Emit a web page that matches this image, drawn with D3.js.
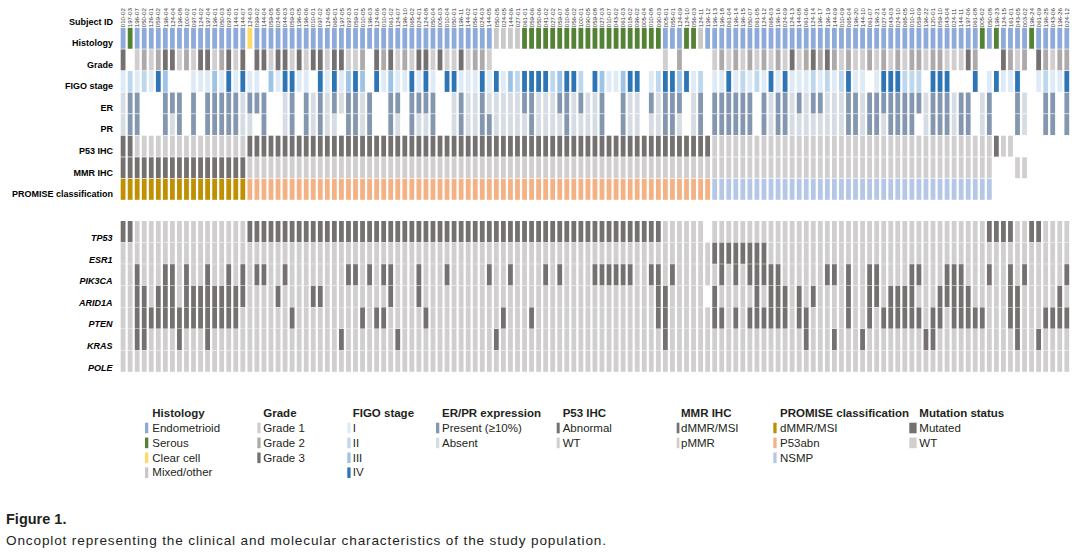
<!DOCTYPE html>
<html><head><meta charset="utf-8">
<script src="https://cdn.jsdelivr.net/npm/d3@7"></script>
<style>
body{margin:0;background:#fff;}
svg{display:block;font-family:"Liberation Sans",Arial,sans-serif;}
</style></head><body>
<svg id="chart" width="1080" height="559"></svg>
<script>
// ---------- DATA (one entry per subject / column) ----------
const subjectIds = ["010-02","197-03","196-07","050-02","126-01","059-02","196-04","124-04","196-08","100-02",
"097-01","124-02","197-04","196-01","050-03","097-05","144-01","144-07","124-03","099-02",
"144-04","059-05","024-08","044-03","059-03","196-05","196-06","010-01","097-02","124-05",
"065-01","197-05","097-03","059-01","010-05","196-03","124-06","010-03","061-02","124-07",
"196-10","065-02","024-01","124-08","050-04","005-03","010-04","050-01","196-11","144-02",
"056-01","024-03","144-05","050-05","024-05","144-06","027-01","061-01","059-06","050-06",
"041-02","027-02","059-07","010-06","056-02","100-01","090-05","059-08","027-03","010-07",
"043-02","061-03","018-02","096-02","005-04","010-08","090-03","005-01","055-01","124-09",
"124-10","056-03","124-11","196-12","196-13","196-18","061-04","196-14","196-15","050-07",
"061-05","124-12","065-03","196-16","024-09","124-13","144-08","061-06","124-14","196-17",
"196-19","144-09","010-09","065-04","196-20","144-10","061-07","196-21","027-04","043-03",
"024-10","065-05","010-10","059-09","196-22","120-01","059-10","043-04","024-11","144-11",
"197-06","061-08","005-02","050-08","196-23","124-15","161-01","043-05","003-02","196-24",
"061-09","196-25","043-06","196-26","024-12"];

// Histology: E endometrioid, S serous, C clear cell, M mixed/other
const histology = ("ESEEEEEEEE"+"EEEEEEEECE"+"EEEEEEEEEE"+"EEEEEEEEEE"+"EEEEEEEEEE"+"EEEMMMMSSS"+"SSSSSSSSSS"+"SSSSSSSEEE"+"SSMEEEEEEE"+"EEEEEEEEEE"+"EEEEEEEEEE"+"EEEEEEEEEE"+"EESESEEEES"+"EEEEE").split("");
// Grade 1/2/3, "." = not graded
const grade = ("3.12123312"+"13312313.3"+"3133131331"+"33112.3231"+"2133131131"+"221......."+".........."+".......1.2"+"....121212"+"1212131232"+"3212112121"+"2122122111"+"32...3212."+"32122").split("");
// FIGO stage 1..4, "." = missing
const figo = ("1212143..."+"1113141411"+".314411.41"+"41343.4131"+"14141.4411"+"1414132444"+"423442.431"+"1344.12443"+"412.114121"+"2141411121"+"212411.144"+"4222.444.."+".4.14114.."+"12114").split("");
// ER / PR: P present, A absent, "." missing
const er = ("APP...PPP."+"P.PPPPPAPP"+"P..AP.PAPA"+"PAPPAP..PP"+".PPPP..APA"+"APAAAAAPPA"+"AAPPAPAAP."+".PAA.PAPPP"+".AP.PPPPPP"+".PAPPAPAPP"+"AAAPPAPPPP"+"PPPPAPPPAP"+"P.AP...PA."+".PP.P").split("");
const pr = ("APP...PAP."+"P.PPPPPAA."+"P..AP.PAPA"+"A.PPAP..PA"+".PAAP..APA"+"APPAAAAAPA"+"AAAPAAAAP."+".PAA.AAPPA"+".AP.PPPPPP"+".PAPPAAAAA"+"AAAPPAPPAP"+"PPP.APPPAP"+"P.AP...PA."+".PP.P").split("");
// P53 IHC: A abnormal, W wild type
const p53ihc = ("AAWWWWWWWW"+"WWWWWWWWAA"+"AAAAAAAAAA"+"AAAAAAAAAA"+"AAAAAAAAAA"+"AAAAAAAAAA"+"AAAAAAAAAA"+"AAAAAAAAAA"+"AAAAWWWWWW"+"WWWWWWWWWW"+"WWWWWWWWWW"+"WWWWWWWWWW"+"WWWWAWW..."+".....").split("");
// MMR IHC: D dMMR/MSI, P pMMR
const mmr = ("DDDDDDDDDD"+"DDDDDDDDPP"+"PPPPPPPPPP"+"PPPPPPPPPP"+"PPPPPPPPPP"+"PPPPPPPPPP"+"PPPPPPPPPP"+"PPPPPPPPPP"+"PPPPPPPPPP"+"PPPPPPPPPP"+"PPPPPPPPPP"+"PPPPPPPPPP"+"PPPP...PP."+".....").split("");
// PROMISE: D dMMR/MSI, P P53abn, N NSMP
const promise = ("DDDDDDDDDD"+"DDDDDDDDPP"+"PPPPPPPPPP"+"PPPPPPPPPP"+"PPPPPPPPPP"+"PPPPPPPPPP"+"PPPPPPPPPP"+"PPPPPPPPPP"+"PPPPNNNNNN"+"NNNNNNNNNN"+"NNNNNNNNNN"+"NNNNNNNNNN"+"NNNN......"+".....").split("");

// Mutations: 1 mutated, 0 wild type, "." not available
const tp53   = ("1100000000"+"0000000011"+"1111111111"+"1111111111"+"1111111111"+"1111111111"+"1111111111"+"1111111000"+"000.000000"+"0000000000"+"0000000000"+"0000000000"+"0001111001"+"10000").split("");
const esr1   = ("0000000000"+"0000000000"+"0000000000"+"0000000000"+"0000000000"+"0000000000"+"0000000000"+"0000000000"+"0000111111"+"1100000000"+"0000000000"+"0000000000"+"0000000000"+"00000").split("");
const pik3ca = ("0010001101"+"0010010101"+"1001000000"+"0011010110"+"0010001000"+"0010010000"+"1010000111"+"1110011010"+"0000010101"+"1111000000"+"1101001100"+"0011000111"+"0001001010"+"00001").split("");
const arid1a = ("0011011101"+"1111111100"+"0010000110"+"0000000010"+"0010000000"+"0000000000"+"0000000000"+"0000001100"+"000.100000"+"1011101010"+"0001001101"+"1110001111"+"1000001100"+"00010").split("");
const pten   = ("0011111111"+"1111111000"+"0000100000"+"0000101100"+"0001000000"+"0000100010"+"0000000000"+"0000001100"+"0000110101"+"1111101100"+"0001001011"+"1111011011"+"1110001100"+"01111").split("");
const kras   = ("0011000010"+"0010000000"+"0000000000"+"0100000001"+"0000000000"+"0001000000"+"0000000000"+"0000000100"+"0000000000"+"0000000100"+"0100010000"+"0000110000"+"0000000100"+"10000").split("");
const pole   = ("0000000000"+"0000000000"+"0000000000"+"0000000000"+"0000000000"+"0000000000"+"0000000000"+"0000000000"+"0000000000"+"0000000000"+"0000000000"+"0000000000"+"0000000000"+"00000").split("");

// Legend categories
const histologyCats = ["Endometrioid","Serous","Clear cell","Mixed/other"];
const gradeCats = ["Grade 1","Grade 2","Grade 3"];
const figoCats = ["I","II","III","IV"];
const erprCats = ["Present (\u226510%)","Absent"];
const p53Cats = ["Abnormal","WT"];
const mmrCats = ["dMMR/MSI","pMMR"];
const promiseCats = ["dMMR/MSI","P53abn","NSMP"];
const mutCats = ["Mutated","WT"];

// ---------- COLOURS ----------
const histColor = d3.scaleOrdinal().domain(["E","S","C","M"]).range(["#8eaadb","#548235","#ffd966","#c9c9c9"]);
const gradeColor = d3.scaleOrdinal().domain(["1","2","3"]).range(["#d0cece","#aeaaaa","#767171"]);
const figoColor = d3.scaleOrdinal().domain(["1","2","3","4"]).range(["#deebf7","#bdd7ee","#9dc3e6","#2e75b6"]);
const erprColor = d3.scaleOrdinal().domain(["P","A"]).range(["#8497b0","#d6dce4"]);
const p53Color = d3.scaleOrdinal().domain(["A","W"]).range(["#767171","#d0cece"]);
const mmrColor = d3.scaleOrdinal().domain(["D","P"]).range(["#767171","#d0cece"]);
const promColor = d3.scaleOrdinal().domain(["D","P","N"]).range(["#bf9000","#f4b183","#b4c7e7"]);
const mutColor = d3.scaleOrdinal().domain(["1","0"]).range(["#767171","#d0cece"]);

// ---------- DRAW ----------
const N = subjectIds.length;
const svg = d3.select("#chart");
const x = d3.scaleBand().domain(d3.range(N)).range([120.7, 1069.2]).paddingInner(0.32).paddingOuter(0);

const clinRows = [
  {name:"Histology", data:histology, color:histColor},
  {name:"Grade", data:grade, color:gradeColor},
  {name:"FIGO stage", data:figo, color:figoColor},
  {name:"ER", data:er, color:erprColor},
  {name:"PR", data:pr, color:erprColor},
  {name:"P53 IHC", data:p53ihc, color:p53Color},
  {name:"MMR IHC", data:mmr, color:mmrColor},
  {name:"PROMISE classification", data:promise, color:promColor}
];
const geneRows = [
  {name:"TP53", data:tp53},{name:"ESR1", data:esr1},{name:"PIK3CA", data:pik3ca},
  {name:"ARID1A", data:arid1a},{name:"PTEN", data:pten},{name:"KRAS", data:kras},{name:"POLE", data:pole}
];
const yC = d3.scaleBand().domain(clinRows.map(d=>d.name)).range([27.8,199.8]).paddingInner(0.03);
const yG = d3.scaleBand().domain(geneRows.map(d=>d.name)).range([221,371.8]).paddingInner(0.02);

// subject IDs
svg.append("text").attr("x",113).attr("y",25.2).attr("text-anchor","end")
  .attr("font-size",9).attr("font-weight","bold").attr("fill","#000").text("Subject ID");
svg.append("g").selectAll("text").data(subjectIds).join("text")
  .attr("transform",(d,i)=>`translate(${x(i)+x.bandwidth()/2},27.3) rotate(-90)`)
  .attr("dy","0.35em").attr("font-size",6.2).attr("fill","#333").text(d=>d);

clinRows.forEach(r=>{
  const g = svg.append("g");
  g.selectAll("rect").data(r.data.map((v,i)=>({v,i})).filter(d=>d.v!=="."))
    .join("rect").attr("x",d=>x(d.i)).attr("width",x.bandwidth())
    .attr("y",yC(r.name)).attr("height",yC.bandwidth()).attr("fill",d=>r.color(d.v));
  svg.append("text").attr("x",113).attr("y",yC(r.name)+yC.bandwidth()-2.6)
    .attr("text-anchor","end").attr("font-size",9).attr("font-weight","bold").attr("fill","#000").text(r.name);
});
geneRows.forEach(r=>{
  const g = svg.append("g");
  g.selectAll("rect").data(r.data.map((v,i)=>({v,i})).filter(d=>d.v!=="."))
    .join("rect").attr("x",d=>x(d.i)).attr("width",x.bandwidth())
    .attr("y",yG(r.name)).attr("height",yG.bandwidth()).attr("fill",d=>mutColor(d.v));
  svg.append("text").attr("x",112.5).attr("y",yG(r.name)+yG.bandwidth()-1.2)
    .attr("text-anchor","end").attr("font-size",9).attr("font-weight","bold").attr("font-style","italic").attr("fill","#000").text(r.name);
});

// ---------- LEGEND ----------
const legend = [
  {title:"Histology", tx:152.3, sx:145, sw:3.3, cats:histologyCats, colors:histColor.range()},
  {title:"Grade", tx:263.3, sx:257.3, sw:3.3, cats:gradeCats, colors:gradeColor.range()},
  {title:"FIGO stage", tx:352.7, sx:347.3, sw:3.3, cats:figoCats, colors:figoColor.range()},
  {title:"ER/PR expression", tx:442, sx:436, sw:3.3, cats:erprCats, colors:erprColor.range()},
  {title:"P53 IHC", tx:562.7, sx:556.7, sw:3, cats:p53Cats, colors:p53Color.range()},
  {title:"MMR IHC", tx:681, sx:676.7, sw:2.7, cats:mmrCats, colors:mmrColor.range()},
  {title:"PROMISE classification", tx:780, sx:773.3, sw:3.3, cats:promiseCats, colors:promColor.range()},
  {title:"Mutation status", tx:919.3, sx:909.3, sw:7.3, cats:mutCats, colors:mutColor.range()}
];
legend.forEach(L=>{
  const g = svg.append("g");
  g.append("text").attr("x",L.tx).attr("y",417.3).attr("font-size",11.5).attr("font-weight","bold").attr("fill","#231f20").text(L.title);
  L.cats.forEach((c,j)=>{
    const by = 431.7 + j*14.9;
    g.append("rect").attr("x",L.sx).attr("y",by-9).attr("width",L.sw).attr("height",10.6).attr("fill",L.colors[j]);
    g.append("text").attr("x",L.tx).attr("y",by).attr("font-size",11.5).attr("fill","#231f20").text(c);
  });
});

// ---------- CAPTION ----------
svg.append("text").attr("x",6).attr("y",523.5).attr("font-size",14.5).attr("font-weight","bold").attr("fill","#231f20").text("Figure 1.");
svg.append("text").attr("x",6).attr("y",544.5).attr("font-size",13.6).attr("fill","#231f20")
  .attr("textLength",600).attr("lengthAdjust","spacing")
  .text("Oncoplot representing the clinical and molecular characteristics of the study population.");
</script>
</body></html>
